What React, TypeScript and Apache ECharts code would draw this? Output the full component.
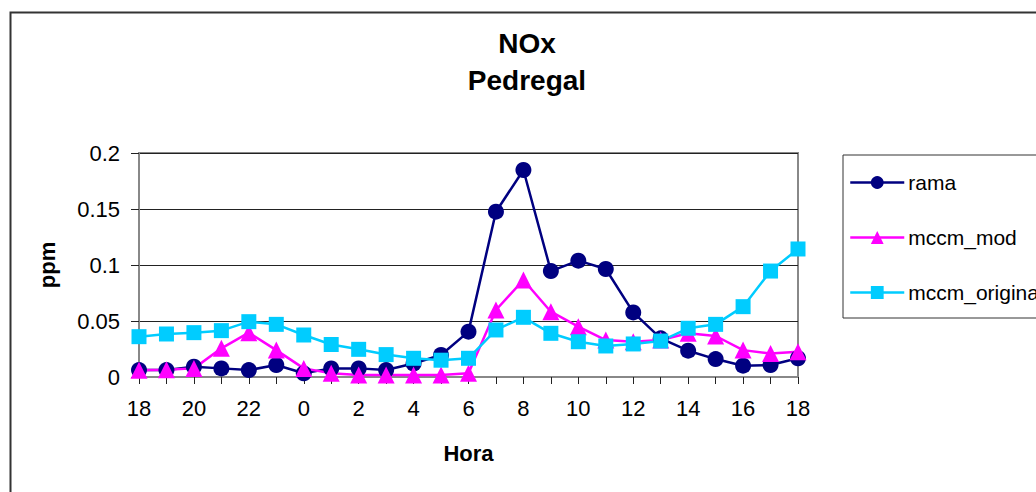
import React, { useEffect, useRef } from "react";
import * as echarts from "echarts";

const hours = ["18", "19", "20", "21", "22", "23", "0", "1", "2", "3", "4", "5", "6", "7", "8", "9", "10", "11", "12", "13", "14", "15", "16", "17", "18"];
const rama = [0.0062, 0.0062, 0.0092, 0.0077, 0.0062, 0.0107, 0.0033, 0.0077, 0.0077, 0.0062, 0.012, 0.0196, 0.0405, 0.1476, 0.1848, 0.0946, 0.1039, 0.0964, 0.0577, 0.0345, 0.0235, 0.016, 0.0101, 0.0107, 0.0167];
const mccmMod = [0.006, 0.0065, 0.0077, 0.0256, 0.0396, 0.024, 0.0077, 0.0033, 0.0018, 0.0018, 0.0018, 0.0018, 0.0033, 0.0598, 0.0866, 0.0583, 0.0449, 0.033, 0.0315, 0.033, 0.039, 0.0366, 0.024, 0.021, 0.0226];
const mccmOriginal = [0.036, 0.0384, 0.0396, 0.0414, 0.0494, 0.047, 0.0375, 0.029, 0.0247, 0.02, 0.0167, 0.015, 0.0167, 0.042, 0.0533, 0.039, 0.0315, 0.0277, 0.0295, 0.0321, 0.0435, 0.047, 0.0628, 0.0946, 0.1143];

const FONT = "'Liberation Sans', Arial, sans-serif";

export default function App() {
  const ref = useRef<HTMLDivElement>(null);
  useEffect(() => {
    if (!ref.current) return;
    const chart = echarts.init(ref.current, null, { renderer: "svg" });
    const mk = (name: string, data: number[], color: string, symbol: string, size: number) => ({
      name,
      type: "line",
      data,
      symbol,
      symbolSize: size,
      itemStyle: { color },
      lineStyle: { color, width: 2.5 },
    });
    chart.setOption({
      animation: false,
      backgroundColor: "#fff",
      textStyle: { fontFamily: FONT },
      title: {
        text: "NOx\nPedregal",
        left: 527,
        top: 25,
        textAlign: "center",
        padding: 0,
        textStyle: { fontFamily: FONT, fontSize: 28, fontWeight: "bold", color: "#000", lineHeight: 37 },
      },
      legend: {
        orient: "vertical",
        left: 843,
        top: 155,
        padding: [17, 200, 15, 6],
        itemWidth: 54,
        itemHeight: 16,
        itemGap: 34,
        borderColor: "#333",
        borderWidth: 1,
        lineStyle: { width: 2.5 },
        textStyle: { fontFamily: FONT, fontSize: 21, color: "#000", padding: [0, 0, 0, -1] },
        data: ["rama", "mccm_mod", "mccm_original"],
      },
      grid: {
        left: 139,
        right: 238,
        top: 153,
        bottom: 115,
        show: true,
        borderColor: "#888",
        borderWidth: 2,
        backgroundColor: "#fff",
      },
      xAxis: {
        type: "category",
        data: hours,
        boundaryGap: false,
        name: "Hora",
        nameLocation: "middle",
        nameGap: 65,
        nameTextStyle: { fontFamily: FONT, fontSize: 22, fontWeight: "bold", color: "#000" },
        axisLine: { lineStyle: { color: "#888", width: 2 } },
        axisTick: { show: true, interval: 0, length: 7, lineStyle: { color: "#222", width: 1 } },
        axisLabel: { interval: 1, margin: 20, fontFamily: FONT, fontSize: 22, color: "#000" },
        splitLine: { show: false },
      },
      yAxis: {
        type: "value",
        min: 0,
        max: 0.2,
        interval: 0.05,
        name: "ppm",
        nameLocation: "middle",
        nameRotate: 90,
        nameGap: 81,
        nameTextStyle: { fontFamily: FONT, fontSize: 22, fontWeight: "bold", color: "#000" },
        axisLine: { show: true, lineStyle: { color: "#888", width: 2 } },
        axisTick: { show: true, length: 8, lineStyle: { color: "#222", width: 1 } },
        axisLabel: { margin: 19, fontFamily: FONT, fontSize: 22, color: "#000" },
        splitLine: { show: true, lineStyle: { color: "#222", width: 1 } },
      },
      graphic: [
        {
          type: "rect",
          left: 8,
          top: 10,
          shape: { x: 0, y: 0, width: 1100, height: 600 },
          style: { fill: "none", stroke: "#333", lineWidth: 2 },
          silent: true,
        },
      ],
      series: [
        mk("rama", rama, "#000080", "circle", 16),
        mk("mccm_mod", mccmMod, "#FF00FF", "triangle", 17),
        mk("mccm_original", mccmOriginal, "#00CCFF", "rect", 15),
      ],
    });
    return () => chart.dispose();
  }, []);
  return <div ref={ref} style={{ position: "absolute", left: 0, top: 0, width: 1036, height: 492 }} />;
}
